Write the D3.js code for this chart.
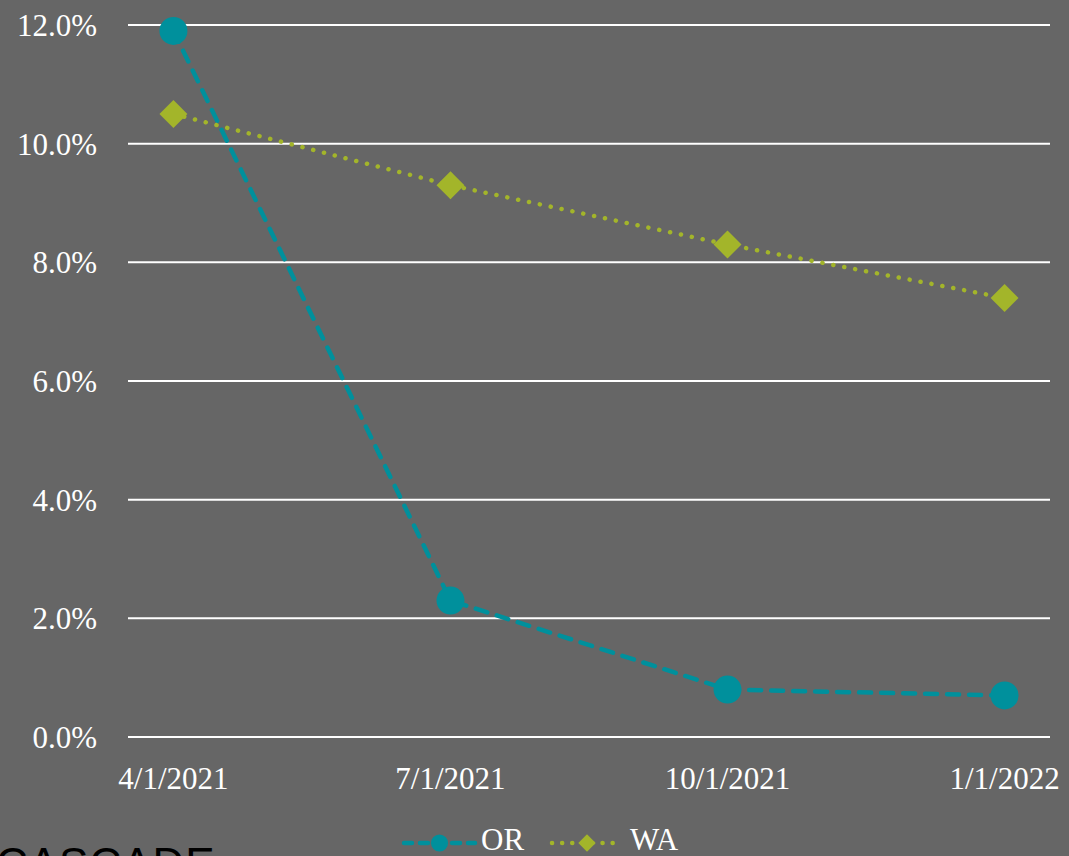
<!DOCTYPE html>
<html>
<head>
<meta charset="utf-8">
<script src="https://cdn.jsdelivr.net/npm/d3@7"></script>
<style>
  body { margin: 0; background: #666666; overflow: hidden; }
  text { font-family: "Liberation Serif", "DejaVu Serif", serif; fill: #ffffff; }
</style>
</head>
<body>
<svg id="chart" width="1069" height="856"></svg>
<script>
// Quarter dates on the x axis
var dates = ["4/1/2021", "7/1/2021", "10/1/2021", "1/1/2022"];
// Series values (percent)
var orValues = [11.9, 2.3, 0.8, 0.7];
var waValues = [10.5, 9.3, 8.3, 7.4];
var yTicks = [0, 2, 4, 6, 8, 10, 12];

var svg = d3.select("#chart");

var x = d3.scalePoint()
	.domain(dates)
	.range([128, 1050])
	.padding(0.164);

var y = d3.scaleLinear()
	.domain([0, 12])
	.range([737, 25]);

// Gridlines:
svg.selectAll("line.grid")
	.data(yTicks)
	.enter().append("line")
	.attr("class", "grid")
	.attr("x1", 128)
	.attr("x2", 1050)
	.attr("y1", function(d) { return y(d); })
	.attr("y2", function(d) { return y(d); })
	.attr("stroke", "#ffffff")
	.attr("stroke-width", 2);

// Y tick labels:
svg.selectAll("text.ylab")
	.data(yTicks)
	.enter().append("text")
	.attr("class", "ylab")
	.attr("x", 97)
	.attr("y", function(d) { return y(d); })
	.attr("dy", "0.35em")
	.attr("text-anchor", "end")
	.style("font-size", "31px")
	.text(function(d) { return d.toFixed(1) + "%"; });

// X tick labels:
svg.selectAll("text.xlab")
	.data(dates)
	.enter().append("text")
	.attr("class", "xlab")
	.attr("x", function(d) { return x(d); })
	.attr("y", 789)
	.attr("text-anchor", "middle")
	.style("font-size", "31px")
	.text(function(d) { return d; });

var series = [
	{ name: "OR", values: orValues, color: "#00909C", dash: "12,10", symbol: d3.symbolCircle, size: 615 },
	{ name: "WA", values: waValues, color: "#A3B52A", dash: "0.1,11", symbol: d3.symbolSquare, size: 390 }
];

var line = d3.line()
	.x(function(d, i) { return x(dates[i]); })
	.y(function(d) { return y(d); });

series.forEach(function(s) {
	svg.append("path")
		.datum(s.values)
		.attr("d", line)
		.attr("fill", "none")
		.attr("stroke", s.color)
		.attr("stroke-width", 4.5)
		.attr("stroke-linecap", "round")
		.attr("stroke-dasharray", s.dash);

	svg.selectAll("path.mark_" + s.name)
		.data(s.values)
		.enter().append("path")
		.attr("class", "mark_" + s.name)
		.attr("d", d3.symbol().type(s.symbol).size(s.size))
		.attr("transform", function(d, i) {
			// the diamond in the reference is a square turned 45 degrees
			return "translate(" + x(dates[i]) + "," + y(d) + ")" +
				(s.name == "WA" ? "rotate(45)" : "");
		})
		.attr("fill", s.color);
});

// Legend:
var legend = [
	{ s: series[0], x0: 404, x1: 475, tx: 481 },
	{ s: series[1], x0: 552, x1: 622, tx: 630 }
];
legend.forEach(function(l) {
	var cx = (l.x0 + l.x1) / 2;
	svg.append("line")
		.attr("x1", l.x0).attr("x2", l.x1)
		.attr("y1", 843).attr("y2", 843)
		.attr("stroke", l.s.color)
		.attr("stroke-width", 4.5)
		.attr("stroke-linecap", "round")
		.attr("stroke-dasharray", l.s.name == "OR" ? "8,8" : "0.1,10");
	svg.append("path")
		.attr("d", l.s.name == "OR"
			? d3.symbol().type(d3.symbolCircle).size(230)()
			: d3.symbol().type(d3.symbolSquare).size(150)())
		.attr("transform", "translate(" + cx + ",843)" + (l.s.name == "WA" ? "rotate(45)" : ""))
		.attr("fill", l.s.color);
	svg.append("text")
		.attr("x", l.tx)
		.attr("y", 850)
		.style("font-size", "31px")
		.text(l.s.name);
});

// Logo text cut by the bottom edge:
svg.append("text")
	.attr("x", -4)
	.attr("y", 879)
	.style("font-family", "'Liberation Sans', sans-serif")
	.style("font-size", "44px")
	.style("letter-spacing", "1px")
	.style("fill", "#000000")
	.text("CASCADE");
</script>
</body>
</html>
